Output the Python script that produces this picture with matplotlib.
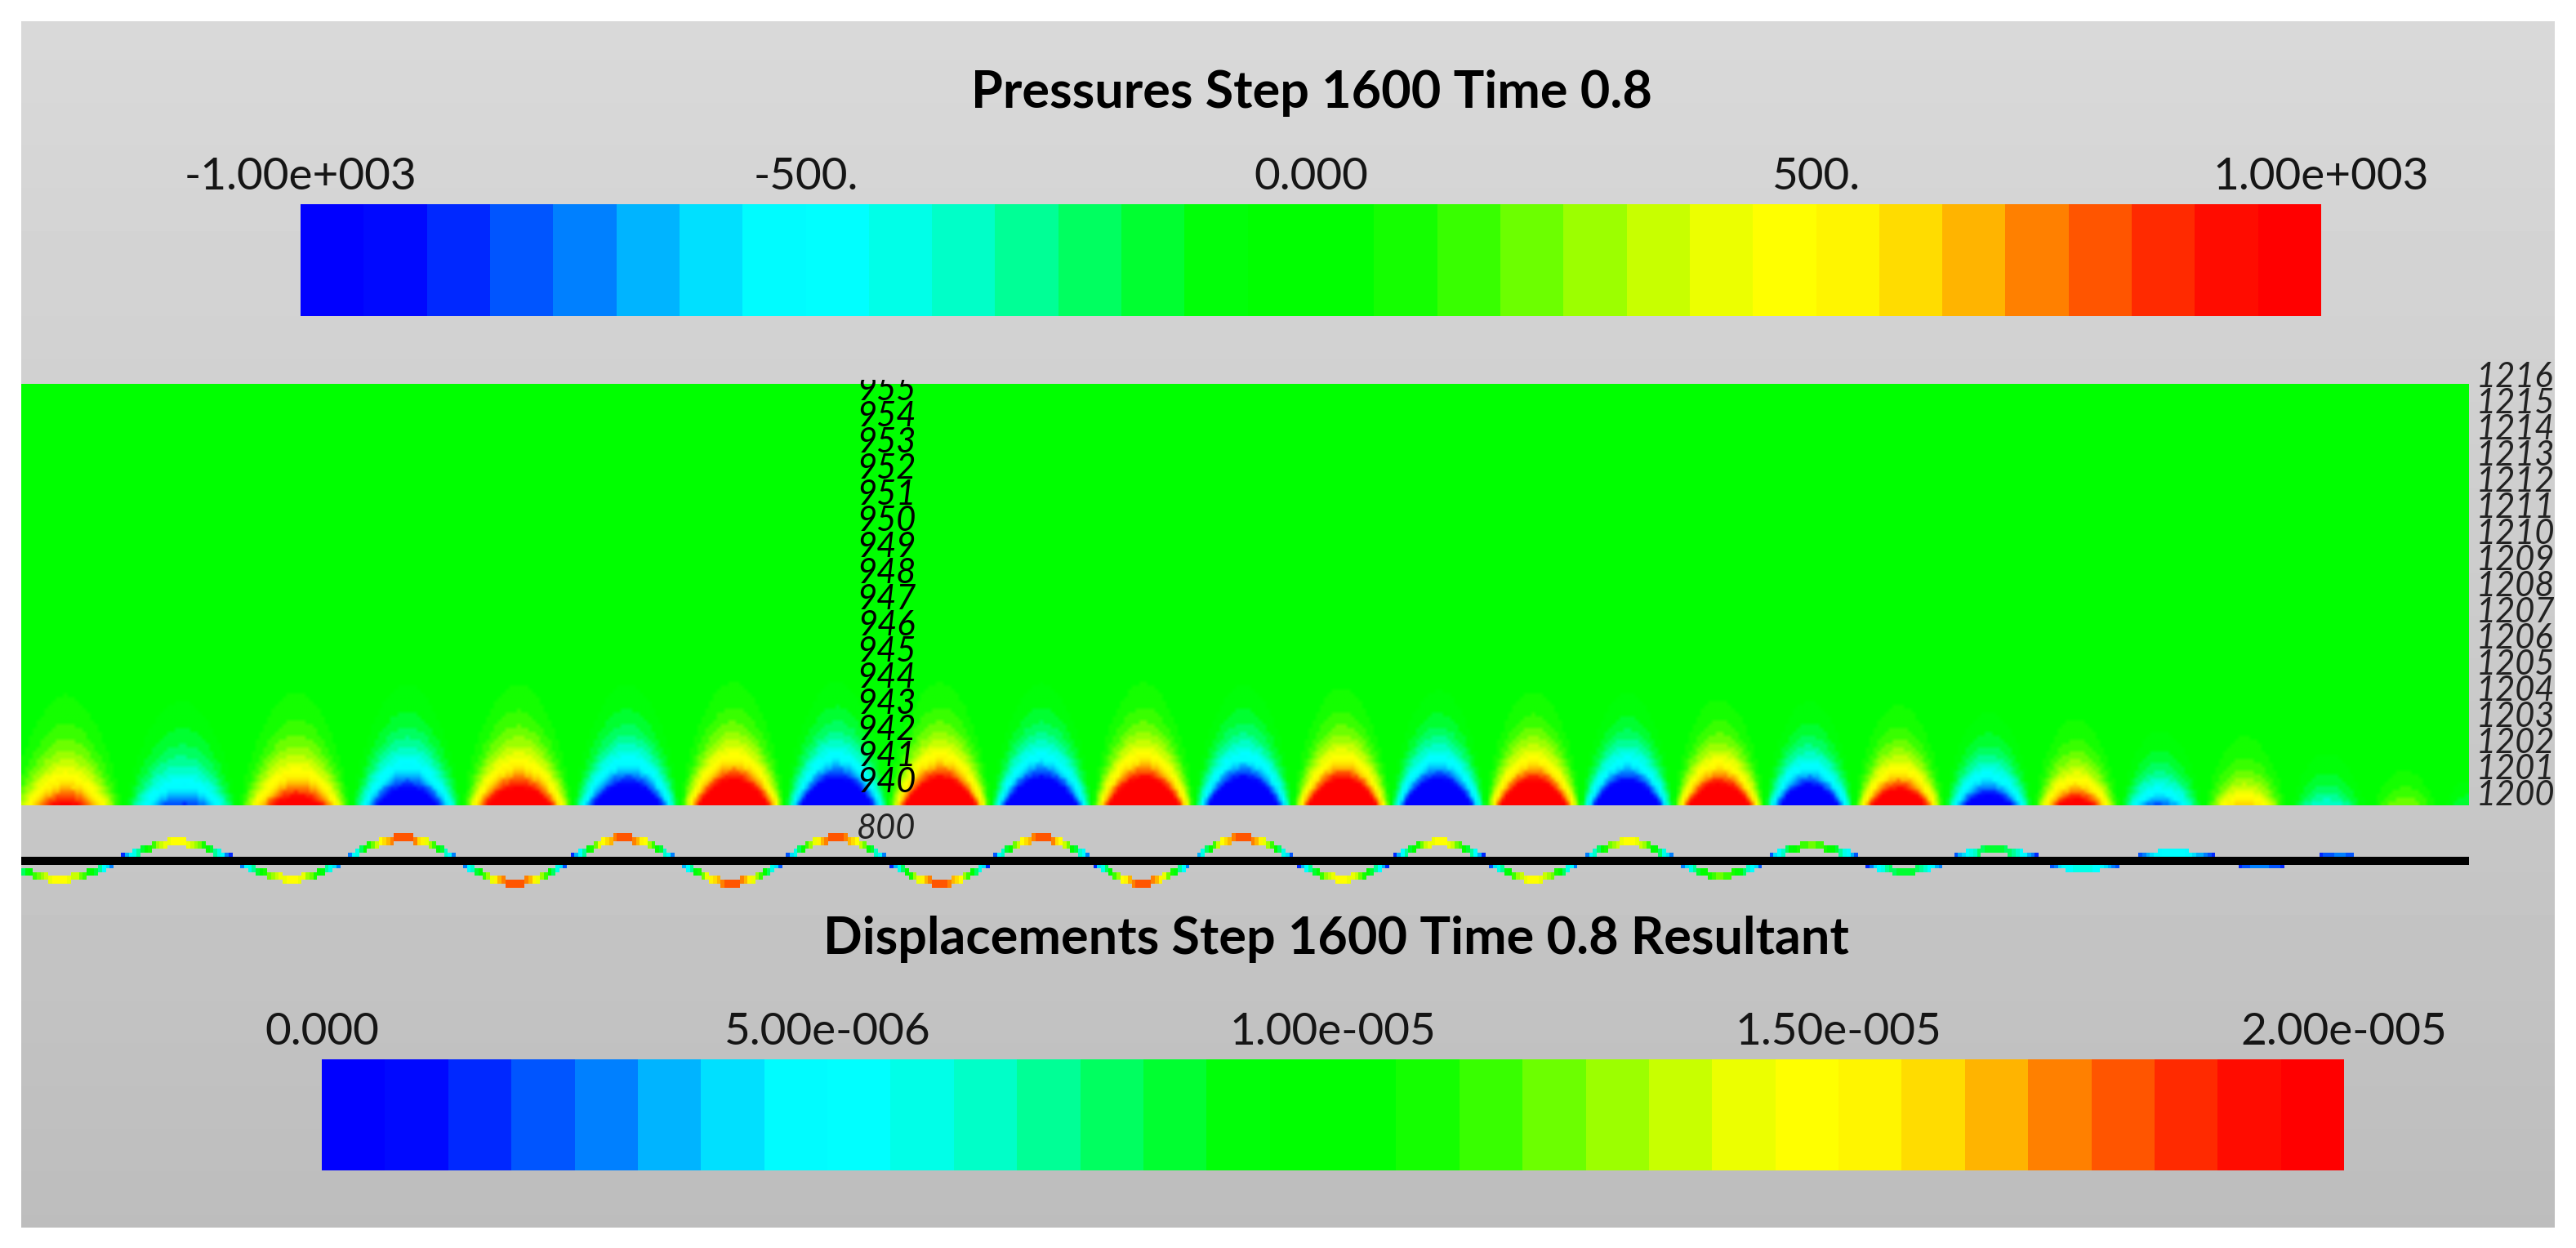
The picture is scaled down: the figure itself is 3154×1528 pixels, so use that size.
#!/usr/bin/env python
# -*- coding: utf-8 -*-
import matplotlib
matplotlib.use("Agg")
import matplotlib.pyplot as plt
import numpy as np
from matplotlib.colors import BoundaryNorm, ListedColormap
from matplotlib.transforms import Bbox, blended_transform_factory

W, H = 3154, 1528
CELL = 4.7  # the source is a low-res screen grab, so the fields are drawn on its coarse pixels

LEVEL_COLORS = [
    "#0000ff", "#0008ff", "#0028ff", "#0055ff", "#0080ff", "#00b4ff", "#00e0ff", "#00fcff",
    "#00ffff", "#00ffe8", "#00ffc8", "#00ff96", "#00ff60", "#00ff30", "#00ff08", "#00ff00",
    "#00ff00", "#14ff00", "#38ff00", "#6cff00", "#9cff00", "#c8ff00", "#ecff00", "#ffff00",
    "#fff500", "#ffdc00", "#ffb400", "#ff8000", "#ff5500", "#ff2a00", "#ff0c00", "#ff0000",
]

PRESSURE_TITLE = "Pressures Step 1600 Time 0.8"
PRESSURE_TICKS = [-1000, -500, 0, 500, 1000]
PRESSURE_LABELS = ["-1.00e+003", "-500.", "0.000", "500.", "1.00e+003"]

DISP_TITLE = "Displacements Step 1600 Time 0.8 Resultant"
DISP_TICKS = [0, 5e-6, 1e-5, 1.5e-5, 2e-5]
DISP_LABELS = ["0.000", "5.00e-006", "1.00e-005", "1.50e-005", "2.00e-005"]

# pressure lobes read along the interface: position and pressure at the base
LOBE_X = [-86, 54, 196, 335, 471, 608, 741, 871, 997, 1125, 1247, 1374, 1495,
          1617, 1733, 1850, 1965, 2078, 2187, 2298, 2407, 2516, 2618, 2722, 2825, 2920, 2997]
LOBE_PEAK = [700, 1000, 850, 1150, 1450, 1500, 1650, 1900, 1950, 2000, 2000, 2050, 2050,
             2050, 2050, 2000, 2000, 1850, 1750, 1550, 1300, 1150, 800, 650, 380, 260, 200]

# crests and troughs of the deformed wall
WAVE_X = [-86, 47, 191, 331, 467, 604, 737, 868, 998, 1124, 1248, 1372, 1493,
          1616, 1735, 1850, 1966, 2078, 2190, 2303, 2413, 2521, 2630, 2738, 2841, 2869]
WAVE_Y = [18, -22, 22, -22, 27, -27, 27, -27, 27, -27, 27, -27, 27,
          -22, 22, -22, 22, -18, 18, -13, 13, -9, 8, -4, 4, 0]
WAVE_FULL_SCALE = 30

CENTER_NODES = list(range(940, 956))
RIGHT_NODES = list(range(1200, 1217))
WALL_NODE = "800"

PANEL_W, PANEL_H = 2997, 516
ROW = 32


def frac_axes(fig, x0, y0, x1, y1):
    # pixel box, top-left origin
    return fig.add_axes([x0 / W, 1 - y1 / H, (x1 - x0) / W, (y1 - y0) / H])


def draw_colorbar(fig, box, vmin, vmax, ticks, labels, cmap):
    ax = frac_axes(fig, *box)
    edges = np.linspace(vmin, vmax, len(LEVEL_COLORS) + 1)
    ax.pcolormesh(edges, [0, 1], np.arange(len(LEVEL_COLORS))[None, :], cmap=cmap, vmin=-0.5, vmax=len(LEVEL_COLORS) - 0.5)
    ax.set_xlim(vmin, vmax)
    ax.set_ylim(0, 1)
    ax.axis("off")
    trans = blended_transform_factory(ax.transData, ax.transAxes)
    for tick, label in zip(ticks, labels):
        ax.text(tick, 1.135, label, transform=trans, ha="center", va="baseline", fontsize=TICK_SIZE, color="#151515", clip_on=False)


def pressure_field():
    xs = (np.arange(int(PANEL_W / CELL)) + 0.5) * CELL
    ys = (np.arange(int(PANEL_H / CELL)) + 0.5) * CELL
    idx = np.arange(len(LOBE_X))
    phase = np.interp(xs, LOBE_X, idx)
    peak = np.interp(phase, idx, LOBE_PEAK)
    spacing = np.interp(phase, idx[:-1] + 0.5, np.diff(LOBE_X))
    sign_wave = -np.cos(np.pi * phase)
    # arches get narrower with height, so the lateral profile sharpens going up
    power = 1 + ys[:, None] / 110
    lateral = np.sign(sign_wave)[None, :] * np.abs(sign_wave)[None, :] ** power
    return xs, ys, peak[None, :] * lateral * np.exp(-ys[:, None] / (spacing[None, :] / np.pi * 1.08))


def wave_cells():
    xs = (np.arange(int(PANEL_W / CELL)) + 0.5) * CELL
    ys = (np.arange(-13, 13) + 0.5) * CELL
    idx = np.arange(len(WAVE_X))
    phase = np.interp(xs, WAVE_X, idx)
    k = np.minimum(phase.astype(int), len(WAVE_X) - 2)
    t = phase - k
    a, b = np.array(WAVE_Y)[k], np.array(WAVE_Y)[k + 1]
    u = (a + b) / 2 + (a - b) / 2 * np.cos(np.pi * t)
    u[xs > WAVE_X[-1]] = np.nan
    grid = np.full((len(ys), len(xs)), np.nan)
    for j, uj in enumerate(u):
        if np.isnan(uj):
            continue
        near = np.abs(ys - uj) <= CELL
        grid[near, j] = abs(uj) / WAVE_FULL_SCALE
    return xs, ys, grid


plt.rcParams["font.family"] = ["Lato", "DejaVu Sans"]
TICK_SIZE = 39.5
TITLE_SIZE = 45.3
NODE_SIZE = 30

fig = plt.figure(figsize=(W / 100, H / 100), dpi=100, facecolor="white")
cmap = ListedColormap(LEVEL_COLORS)

# grey gradient backdrop
bg = frac_axes(fig, 26, 26, 3128, 1503)
bg.imshow(np.linspace(217, 189, 256)[:, None], cmap="gray", vmin=0, vmax=255, aspect="auto", interpolation="bilinear", extent=(0, 1, 0, 1))
bg.axis("off")

fig.text(1606 / W, 1 - 132 / H, PRESSURE_TITLE, ha="center", va="baseline", fontsize=TITLE_SIZE, weight="bold", color="black")
fig.text(1636 / W, 1 - 1168 / H, DISP_TITLE, ha="center", va="baseline", fontsize=TITLE_SIZE, weight="bold", color="black")

draw_colorbar(fig, (368, 250, 2842, 387), PRESSURE_TICKS[0], PRESSURE_TICKS[-1], PRESSURE_TICKS, PRESSURE_LABELS, cmap)
draw_colorbar(fig, (394, 1297, 2870, 1433), DISP_TICKS[0], DISP_TICKS[-1], DISP_TICKS, DISP_LABELS, cmap)

# pressure field
field_ax = frac_axes(fig, 26, 470, 3023, 986)
px, py, field = pressure_field()
norm = BoundaryNorm(np.linspace(-1000, 1000, len(LEVEL_COLORS) + 1), len(LEVEL_COLORS), clip=True)
field_ax.imshow(field, cmap=cmap, norm=norm, origin="lower", aspect="auto", extent=(0, PANEL_W, 0, PANEL_H),
                interpolation="bilinear", interpolation_stage="rgba")
field_ax.set_xlim(0, PANEL_W)
field_ax.set_ylim(0, PANEL_H)
field_ax.axis("off")

for i, node in enumerate(CENTER_NODES):
    t = field_ax.text(1085 - 26, 16 + i * ROW, str(node), ha="center", va="baseline", style="italic", fontsize=NODE_SIZE, color="black", clip_on=True)
    t.set_clip_box(Bbox([[0, 0], [W, H - 465]]))
for i, node in enumerate(RIGHT_NODES):
    t = field_ax.text(3032 - 26, i * ROW, str(node), ha="left", va="baseline", style="italic", fontsize=NODE_SIZE, color="#222222", clip_on=True)
    t.set_clip_box(Bbox([[0, 0], [3128, H]]))
field_ax.text(1085 - 26, -41, WALL_NODE, ha="center", va="baseline", style="italic", fontsize=NODE_SIZE, color="#222222", clip_on=False)

# deformed wall with the black undeformed line on top
wave_ax = frac_axes(fig, 26, 994, 3023, 1114)
wx, wy, wave = wave_cells()
wave_ax.imshow(wave, cmap=cmap, vmin=0, vmax=1, origin="lower", aspect="auto",
               extent=(0, PANEL_W, wy[0] - CELL / 2, wy[-1] + CELL / 2), interpolation="nearest")
wave_ax.axhspan(-5, 5, color="black", lw=0, zorder=3)
wave_ax.set_xlim(0, PANEL_W)
wave_ax.set_ylim(-60, 60)
wave_ax.patch.set_alpha(0)
wave_ax.axis("off")

fig.savefig("out.png", dpi=100, facecolor="white")
